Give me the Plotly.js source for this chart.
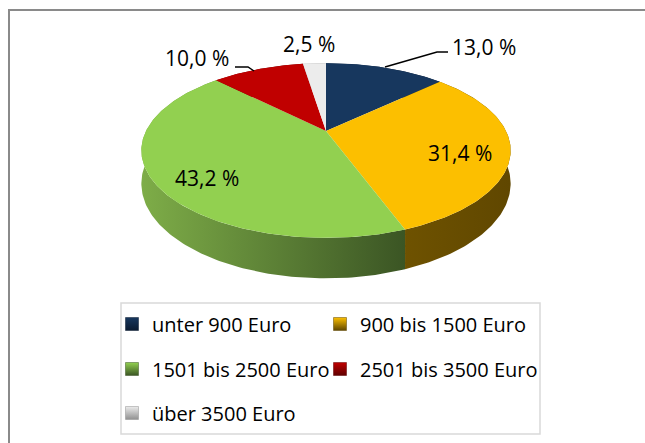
<!DOCTYPE html>
<html>
<head>
<meta charset="utf-8">
<script src="https://cdn.plot.ly/plotly-3.0.1.min.js"></script>
<style>html,body{margin:0;padding:0;background:#fff;}#chart{width:645px;height:443px;}</style>
</head>
<body>
<div id="chart"></div>
<script>
// ---- data ----
const categories = ["unter 900 Euro", "900 bis 1500 Euro", "1501 bis 2500 Euro", "2501 bis 3500 Euro", "über 3500 Euro"];
const shares = [13.0, 31.4, 43.2, 10.0, 2.5];
const valueLabels = ["13,0 %", "31,4 %", "43,2 %", "10,0 %", "2,5 %"];

// ---- styles ----
const topColors = ["#17375E", "#FCBF00", "#92D050", "#C00000", "#ECECEC"];
const sideColors = [["#0E2440", "#0A1A30"], ["#6E5200", "#604700"], ["#7EAD48", "#3B5524"], ["#800000", "#600000"], ["#B0B0B0", "#909090"]];
const legendIds = ["legend", "legend2", "legend3", "legend4", "legend5"];
// legend slot positions in pixels (x of legend left, y of row centre)
const legendSlots = [[112, 324], [320, 324], [112, 369], [320, 369], [112, 413]];

// projection of the tilted disc (layout geometry)
const CX = 326, CY = 131, RX = 180, RY = 83, K = 0.223, DEPTH = 31.5;
function proj(deg, depth) {
  const t = deg * Math.PI / 180;
  const s = 1 / (1 + K * Math.sin(t));
  return [CX + RX * Math.cos(t) * s, CY - RY * Math.sin(t) * s + depth * s];
}
function arc(a0, a1, depth) {
  const pts = [];
  const n = Math.max(2, Math.ceil(Math.abs(a1 - a0)));
  for (let i = 0; i <= n; i++) pts.push(proj(a0 + (a1 - a0) * i / n, depth));
  return pts;
}

const total = shares.reduce((a, b) => a + b, 0);
const sideTraces = [], topTraces = [], legendTraces = [];
let cum = 0;
shares.forEach((v, i) => {
  const a0 = 90 - cum / total * 360;
  cum += v;
  const a1 = 90 - cum / total * 360;
  // side wall
  const topRim = arc(a0, a1, 0);
  const botRim = arc(a1, a0, DEPTH);
  const side = topRim.concat(botRim);
  sideTraces.push({
    type: "scatter", mode: "lines", fill: "toself",
    x: side.map(p => p[0]), y: side.map(p => p[1]),
    line: {width: 0}, fillcolor: sideColors[i][0],
    fillgradient: {type: "horizontal", colorscale: [[0, sideColors[i][0]], [1, sideColors[i][1]]]},
    showlegend: false, hoverinfo: "skip"
  });
  // top face
  const face = [[CX, CY]].concat(arc(a0, a1, 0)).concat([[CX, CY]]);
  topTraces.push({
    type: "scatter", mode: "lines", fill: "toself",
    x: face.map(p => p[0]), y: face.map(p => p[1]),
    line: {width: 0}, fillcolor: topColors[i],
    showlegend: false, hoverinfo: "skip"
  });
  legendTraces.push({
    type: "scatter", mode: "markers", x: [null], y: [null],
    name: categories[i], legend: legendIds[i],
    marker: {symbol: "square", size: 13, color: topColors[i],
             line: {width: 0.5, color: sideColors[i][1]},
             gradient: {type: "vertical", color: sideColors[i][1]}},
    hoverinfo: "skip"
  });
});

const labelPos = [[484, 47], [460, 153], [207, 178], [197, 58], [309, 44]];
const lblFont = {family: "Open Sans, sans-serif", size: 21, color: "#000"};
const annotations = valueLabels.map((t, i) => ({
  x: labelPos[i][0], y: labelPos[i][1], xref: "x", yref: "y",
  text: t, showarrow: false, font: lblFont, xanchor: "center", yanchor: "middle"
}));

const legFont = {family: "Open Sans, sans-serif", size: 20, color: "#000"};
function leg(slot) {
  return {orientation: "v", x: slot[0] / 645, xanchor: "left", y: (443 - slot[1]) / 443, yanchor: "middle",
          bgcolor: "rgba(0,0,0,0)", borderwidth: 0, font: legFont,
          itemclick: false, itemdoubleclick: false};
}

const layout = {
  width: 645, height: 443,
  margin: {l: 0, r: 0, t: 0, b: 0},
  paper_bgcolor: "#fff", plot_bgcolor: "#fff",
  xaxis: {range: [0, 645], visible: false, fixedrange: true},
  yaxis: {range: [443, 0], visible: false, fixedrange: true},
  showlegend: true,
  annotations: annotations,
  shapes: [
    {type: "path", xref: "x", yref: "y", path: "M9,443 L9,10 L645,10", line: {color: "#8A8A8A", width: 2}},
    {type: "rect", xref: "x", yref: "y", x0: 121, y0: 303, x1: 540, y1: 434, line: {color: "#D9D9D9", width: 1.5}},
    {type: "path", xref: "x", yref: "y", path: "M385,67 L437,52 L448,52", line: {color: "#000", width: 1.5}},
    {type: "path", xref: "x", yref: "y", path: "M235,67 L248,67 L254,71", line: {color: "#000", width: 1.5}}
  ],
  hovermode: false
};
legendIds.forEach((id, i) => { layout[id] = leg(legendSlots[i]); });

Plotly.newPlot("chart", sideTraces.concat(topTraces).concat(legendTraces), layout, {displayModeBar: false, staticPlot: true});
</script>
</body>
</html>
